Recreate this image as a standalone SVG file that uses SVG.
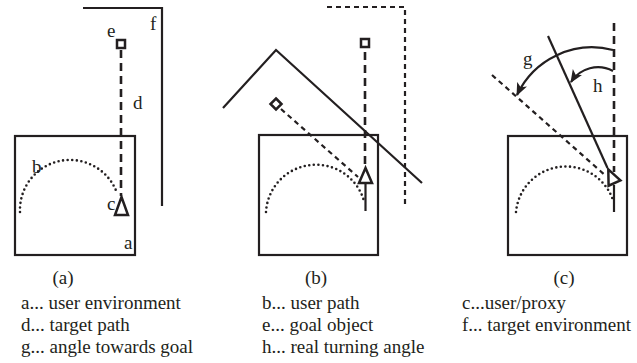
<svg xmlns="http://www.w3.org/2000/svg" width="637" height="363" viewBox="0 0 637 363">
<defs>
<style>
.ln{fill:none;stroke:#231f20;stroke-width:2.2}
.box{fill:none;stroke:#231f20;stroke-width:2.2}
.ld{fill:none;stroke:#231f20;stroke-width:2.6;stroke-dasharray:8 5}
.sd{fill:none;stroke:#231f20;stroke-width:2.2;stroke-dasharray:5 4}
.dot{fill:none;stroke:#231f20;stroke-width:2.6;stroke-dasharray:0 4.6;stroke-linecap:round}
.sym{fill:#fff;stroke:#231f20;stroke-width:2.5}
text{font-family:"Liberation Serif","Times New Roman",serif;font-size:19px;fill:#231f20}
</style>
<marker id="ah" viewBox="0 0 12 10" refX="11" refY="5" markerWidth="13" markerHeight="11" markerUnits="userSpaceOnUse" orient="auto">
<path d="M0,0 L12,5 L0,10 L3,5 Z" fill="#231f20"/>
</marker>
</defs>

<g id="panel-a">
<g id="a-user-env"><rect class="box" x="15" y="136" width="120" height="119"/><text x="124" y="249">a</text></g>
<g id="a-target-env"><polyline class="ln" points="83,8 162,8 162,206"/><text x="150" y="30">f</text></g>
<g id="a-goal"><rect class="sym" x="117" y="40" width="8" height="8"/><text x="107" y="37">e</text></g>
<g id="a-user-path"><path class="dot" d="M20,212 A50,50 0 0 1 117,193"/><text x="32" y="173">b</text></g>
<g id="a-user"><polygon class="sym" points="121.5,197 115,215 128,215"/><text x="107" y="210">c</text></g>
<text x="133" y="109">d</text>
</g>

<g id="panel-b">
<g id="b-user-env"><rect class="box" x="259" y="135" width="119" height="120"/></g>
<g id="b-target-env"><polyline class="sd" points="327,7 405,7 405,205"/></g>
<g id="b-virtual-env"><polyline class="ln" points="223,108 276,50 422,183"/></g>
<g id="b-goal"><rect class="sym" x="361" y="39" width="8" height="8"/></g>
<g id="b-proxy-goal"><polygon class="sym" points="276,98.5 281.5,104 276,109.5 270.5,104"/></g>
<g id="b-user-path"><path class="dot" d="M266,212 A50,50 0 0 1 364,201"/></g>
<g id="b-user"><polygon class="sym" points="365.5,168 359,183 372,183"/></g>
</g>

<g id="panel-c">
<g id="c-user-env"><rect class="box" x="508" y="136" width="119" height="119"/></g>
<g id="c-user-path"><path class="dot" d="M516,212 A50,50 0 0 1 613,200"/></g>
<g id="c-user"><polygon class="sym" points="608.3,169.3 620.4,180.3 608.6,185.7"/></g>
<text x="523" y="65">g</text>
<text x="593" y="92">h</text>
</g>

<g id="connectors">
<line class="ld" x1="121" y1="50" x2="121" y2="196"/>
<line class="ld" x1="365" y1="52" x2="365" y2="168"/>
<line class="ln" x1="365.5" y1="183" x2="365.5" y2="211"/>
<line class="sd" x1="281" y1="109" x2="358" y2="177"/>
<line class="ld" x1="614" y1="23" x2="614" y2="172"/>
<line class="ln" x1="614" y1="185" x2="614" y2="212"/>
<line class="ln" x1="548" y1="36" x2="607.5" y2="168"/>
<line class="sd" x1="492" y1="75" x2="606" y2="176"/>
<path class="ln" d="M613,50 A83,83 0 0 0 517,95" stroke-width="2.6" marker-end="url(#ah)"/>
<path class="ln" d="M613,71 A32,32 0 0 0 571,82" stroke-width="2.6" marker-end="url(#ah)"/>
</g>

<g id="captions">
<text x="63" y="284" text-anchor="middle">(a)</text>
<text x="316" y="284" text-anchor="middle">(b)</text>
<text x="564" y="284" text-anchor="middle">(c)</text>
<text x="21" y="309">a... user environment</text>
<text x="21" y="331">d... target path</text>
<text x="21" y="353">g... angle towards goal</text>
<text x="262" y="309">b... user path</text>
<text x="262" y="331">e... goal object</text>
<text x="262" y="353">h... real turning angle</text>
<text x="462" y="309">c...user/proxy</text>
<text x="462" y="331">f... target environment</text>
</g>
</svg>
